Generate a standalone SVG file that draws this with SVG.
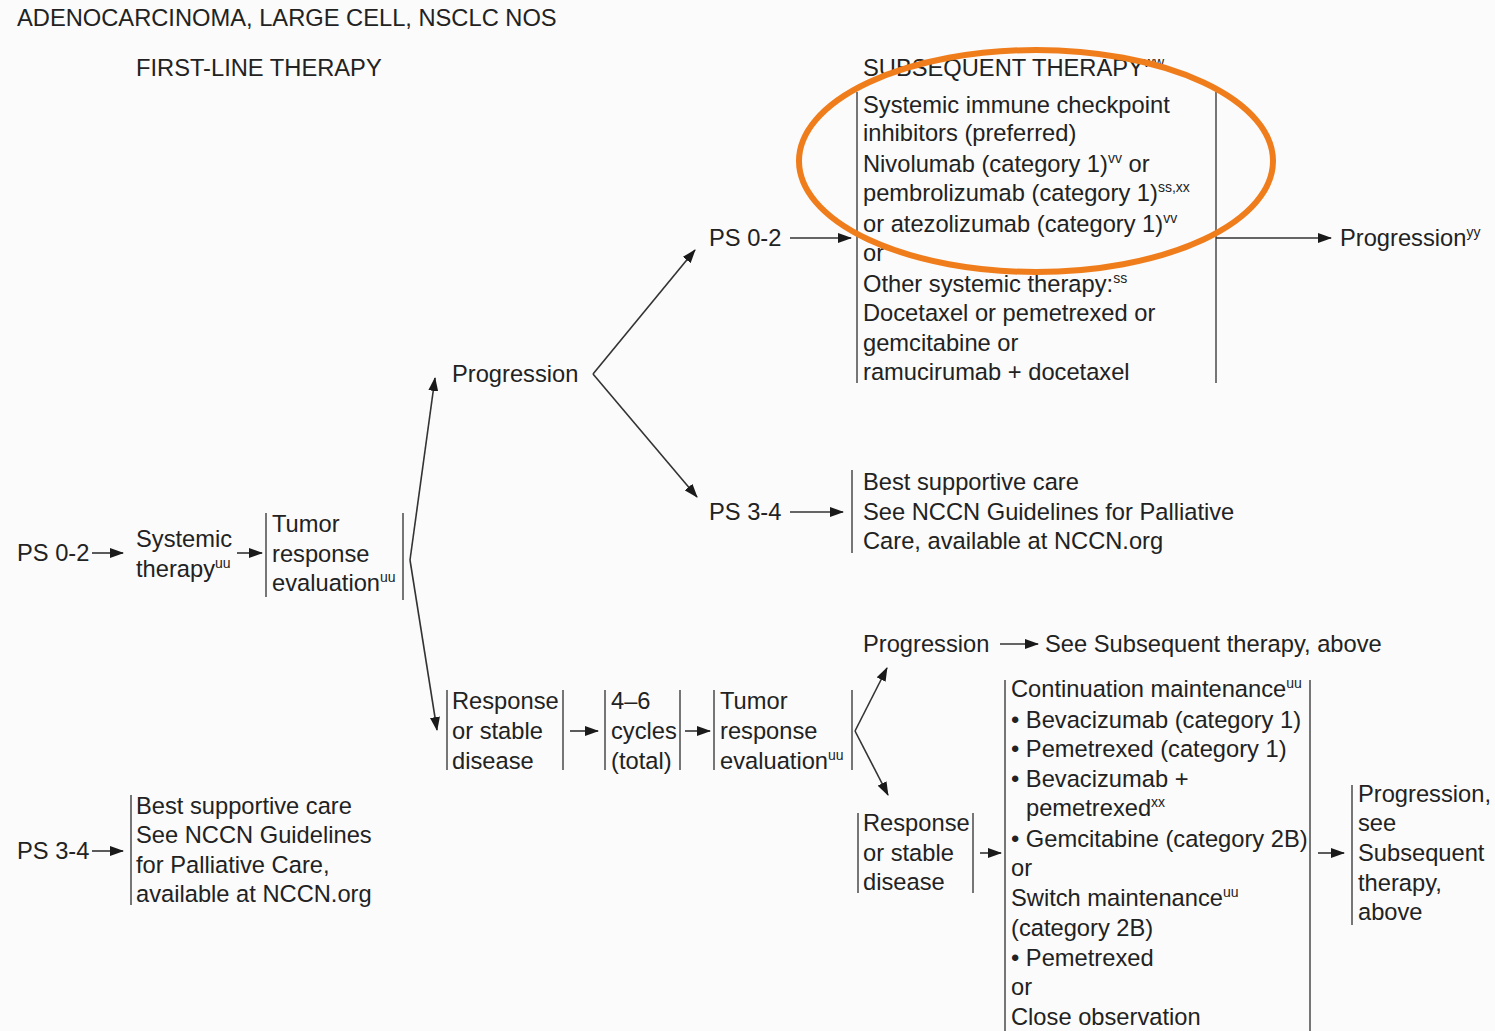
<svg xmlns="http://www.w3.org/2000/svg" width="1495" height="1031" viewBox="0 0 1495 1031">
<style>
text{font-family:"Liberation Sans",Arial,sans-serif;font-size:23.7px;fill:#222}
.t{font-size:23.7px}
.sup{font-size:14px}
.bar{stroke:#555;stroke-width:1.6;fill:none}
.con{stroke:#333;stroke-width:1.6;fill:none;marker-end:url(#ah)}
</style>
<defs>
<marker id="ah" viewBox="0 0 14 10" refX="13" refY="5" markerWidth="14" markerHeight="10" markerUnits="userSpaceOnUse" orient="auto">
<path d="M0,0 L14,5 L0,10 Z" fill="#1a1a1a"/>
</marker>
</defs>
<rect width="1495" height="1031" fill="#fbfbfb"/>

<g id="headers">
<text class="t" x="17" y="26">ADENOCARCINOMA, LARGE CELL, NSCLC NOS</text>
<text class="t" x="136" y="76">FIRST-LINE THERAPY</text>
<text class="t" x="863" y="76">SUBSEQUENT THERAPY<tspan class="sup" dy="-9">ww</tspan></text>
</g>

<g id="ps02-left"><text x="17" y="561">PS 0-2</text></g>
<g id="systemic-therapy"><text x="136" y="547">Systemic</text><text x="136" y="577">therapy<tspan class="sup" dy="-9">uu</tspan></text></g>
<g id="tumor-eval-1">
<line class="bar" x1="266" y1="513" x2="266" y2="597"/>
<line class="bar" x1="403" y1="513" x2="403" y2="600"/>
<text x="272" y="532">Tumor</text><text x="272" y="562">response</text><text x="272" y="591">evaluation<tspan class="sup" dy="-9">uu</tspan></text>
</g>
<g id="progression-1"><text x="452" y="382">Progression</text></g>
<g id="ps02-right"><text x="709" y="246">PS 0-2</text></g>
<g id="ps34-right"><text x="709" y="520">PS 3-4</text></g>
<g id="subsequent-box">
<line class="bar" x1="857" y1="92" x2="857" y2="383"/>
<line class="bar" x1="1216" y1="92" x2="1216" y2="383"/>
<text x="863" y="113">Systemic immune checkpoint</text>
<text x="863" y="141">inhibitors (preferred)</text>
<text x="863" y="172">Nivolumab (category 1)<tspan class="sup" dy="-9">vv</tspan><tspan dy="9"> or</tspan></text>
<text x="863" y="201">pembrolizumab (category 1)<tspan class="sup" dy="-9">ss,xx</tspan></text>
<text x="863" y="232">or atezolizumab (category 1)<tspan class="sup" dy="-9">vv</tspan></text>
<text x="863" y="261">or</text>
<text x="863" y="292">Other systemic therapy:<tspan class="sup" dy="-9">ss</tspan></text>
<text x="863" y="321">Docetaxel or pemetrexed or</text>
<text x="863" y="351">gemcitabine or</text>
<text x="863" y="380">ramucirumab + docetaxel</text>
</g>
<g id="progression-yy"><text x="1340" y="246">Progression<tspan class="sup" dy="-9">yy</tspan></text></g>
<g id="bsc-right">
<line class="bar" x1="852" y1="470" x2="852" y2="553"/>
<text x="863" y="490">Best supportive care</text>
<text x="863" y="520">See NCCN Guidelines for Palliative</text>
<text x="863" y="549">Care, available at NCCN.org</text>
</g>
<g id="response-1">
<line class="bar" x1="447" y1="690" x2="447" y2="770"/>
<line class="bar" x1="563" y1="690" x2="563" y2="770"/>
<text x="452" y="709">Response</text><text x="452" y="739">or stable</text><text x="452" y="769">disease</text>
</g>
<g id="cycles">
<line class="bar" x1="605" y1="690" x2="605" y2="770"/>
<line class="bar" x1="680" y1="690" x2="680" y2="770"/>
<text x="611" y="709">4–6</text><text x="611" y="739">cycles</text><text x="611" y="769">(total)</text>
</g>
<g id="tumor-eval-2">
<line class="bar" x1="714" y1="690" x2="714" y2="770"/>
<line class="bar" x1="852" y1="690" x2="852" y2="770"/>
<text x="720" y="709">Tumor</text><text x="720" y="739">response</text><text x="720" y="769">evaluation<tspan class="sup" dy="-9">uu</tspan></text>
</g>
<g id="progression-2"><text x="863" y="652">Progression</text></g>
<g id="see-subsequent"><text x="1045" y="652">See Subsequent therapy, above</text></g>
<g id="response-2">
<line class="bar" x1="858" y1="813" x2="858" y2="893"/>
<line class="bar" x1="973" y1="813" x2="973" y2="893"/>
<text x="863" y="831">Response</text><text x="863" y="861">or stable</text><text x="863" y="890">disease</text>
</g>
<g id="maintenance-box">
<line class="bar" x1="1005" y1="680" x2="1005" y2="1031"/>
<line class="bar" x1="1310" y1="680" x2="1310" y2="1031"/>
<text x="1011" y="697">Continuation maintenance<tspan class="sup" dy="-9">uu</tspan></text>
<text x="1011" y="728">• Bevacizumab (category 1)</text>
<text x="1011" y="757">• Pemetrexed (category 1)</text>
<text x="1011" y="787">• Bevacizumab +</text>
<text x="1026" y="816">pemetrexed<tspan class="sup" dy="-9">xx</tspan></text>
<text x="1011" y="847">• Gemcitabine (category 2B)</text>
<text x="1011" y="876">or</text>
<text x="1011" y="906">Switch maintenance<tspan class="sup" dy="-9">uu</tspan></text>
<text x="1011" y="936">(category 2B)</text>
<text x="1011" y="966">• Pemetrexed</text>
<text x="1011" y="995">or</text>
<text x="1011" y="1025">Close observation</text>
</g>
<g id="progression-see">
<line class="bar" x1="1352" y1="785" x2="1352" y2="925"/>
<text x="1358" y="802">Progression,</text><text x="1358" y="831">see</text><text x="1358" y="861">Subsequent</text><text x="1358" y="891">therapy,</text><text x="1358" y="920">above</text>
</g>
<g id="ps34-left"><text x="17" y="859">PS 3-4</text></g>
<g id="bsc-left">
<line class="bar" x1="131" y1="795" x2="131" y2="905"/>
<text x="136" y="814">Best supportive care</text>
<text x="136" y="843">See NCCN Guidelines</text>
<text x="136" y="873">for Palliative Care,</text>
<text x="136" y="902">available at NCCN.org</text>
</g>

<g id="connectors">
<line class="con" x1="92" y1="553" x2="123" y2="553"/>
<line class="con" x1="237" y1="553" x2="262" y2="553"/>
<line class="con" x1="410" y1="560" x2="435" y2="378"/>
<line class="con" x1="410" y1="560" x2="437" y2="730"/>
<line class="con" x1="593" y1="374" x2="695" y2="250"/>
<line class="con" x1="593" y1="374" x2="697" y2="497"/>
<line class="con" x1="790" y1="238" x2="851" y2="238"/>
<line class="con" x1="790" y1="512" x2="843" y2="512"/>
<line class="con" x1="1216" y1="238" x2="1331" y2="238"/>
<line class="con" x1="570" y1="731" x2="598" y2="731"/>
<line class="con" x1="685" y1="731" x2="710" y2="731"/>
<line class="con" x1="855" y1="731" x2="887" y2="668"/>
<line class="con" x1="855" y1="731" x2="888" y2="795"/>
<line class="con" x1="1000" y1="644" x2="1038" y2="644"/>
<line class="con" x1="980" y1="853" x2="1001" y2="853"/>
<line class="con" x1="1318" y1="853" x2="1344" y2="853"/>
<line class="con" x1="92" y1="851" x2="123" y2="851"/>
</g>

<g id="highlight">
<ellipse cx="1036" cy="161" rx="237" ry="111" fill="none" stroke="#f07d1c" stroke-width="6"/>
</g>
</svg>
